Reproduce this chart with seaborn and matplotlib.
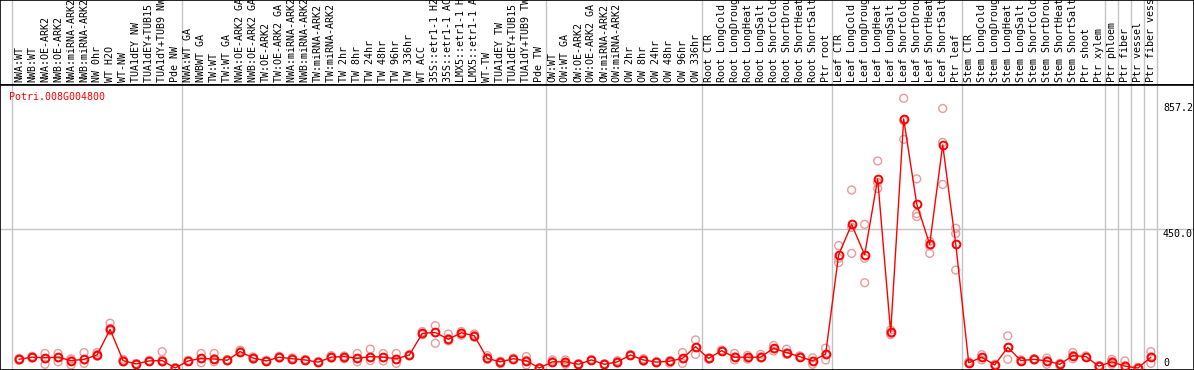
import matplotlib
matplotlib.use("Agg")
import matplotlib.pyplot as plt
import seaborn as sns
import numpy as np
import pandas as pd

gene = "Potri.008G004800"

categories = [
    "NWA:WT", "NWB:WT", "NWA:OE-ARK2", "NWB:OE-ARK2", "NWA:miRNA-ARK2", "NWB:miRNA-ARK2",
    "NW 0hr", "WT H2O", "WT-NW", "TUA1dEY NW", "TUA1dEY+TUB15 NW", "TUA1dY+TUB9 NW", "Pde NW",
    "NWA:WT GA", "NWBWT GA", "TW:WT", "TW:WT GA", "NWA:OE-ARK2 GA", "NWB:OE-ARK2 GA",
    "TW:OE-ARK2", "TW:OE-ARK2 GA", "NWA:miRNA-ARK2 GA", "NWB:miRNA-ARK2 GA", "TW:miRNA-ARK2",
    "TW:miRNA-ARK2 GA", "TW 2hr", "TW 8hr", "TW 24hr", "TW 48hr", "TW 96hr", "TW 336hr",
    "WT ACC", "35S::etr1-1 H2O", "35S::etr1-1 ACC", "LMX5::etr1-1 H2O", "LMX5::etr1-1 ACC",
    "WT-TW", "TUA1dEY TW", "TUA1dEY+TUB15 TW", "TUA1dY+TUB9 TW", "Pde TW",
    "OW:WT", "OW:WT GA", "OW:OE-ARK2", "OW:OE-ARK2 GA", "OW:miRNA-ARK2", "OW:miRNA-ARK2 GA",
    "OW 2hr", "OW 8hr", "OW 24hr", "OW 48hr", "OW 96hr", "OW 336hr",
    "Root CTR", "Root LongCold", "Root LongDrought", "Root LongHeat", "Root LongSalt",
    "Root ShortCold", "Root ShortDrought", "Root ShortHeat", "Root ShortSalt", "Ptr root",
    "Leaf CTR", "Leaf LongCold", "Leaf LongDrought", "Leaf LongHeat", "Leaf LongSalt",
    "Leaf ShortCold", "Leaf ShortDrought", "Leaf ShortHeat", "Leaf ShortSalt", "Ptr leaf",
    "Stem CTR", "Stem LongCold", "Stem LongDrought", "Stem LongHeat", "Stem LongSalt",
    "Stem ShortCold", "Stem ShortDrought", "Stem ShortHeat", "Stem ShortSalt", "Ptr shoot",
    "Ptr xylem", "Ptr phloem", "Ptr fiber", "Ptr vessel", "Ptr fiber vessel",
]

mean_values = [
    28, 35, 33, 35, 24, 28, 42, 125, 24, 13, 23, 24, 0,
    23, 31, 29, 25, 53, 32, 23, 35, 30, 26, 19, 35, 37, 31, 37, 35, 30, 42,
    112, 115, 93, 114, 104, 31, 20, 30, 23, 0,
    20, 20, 12, 26, 12, 20, 42, 26, 19, 22, 31, 69,
    31, 56, 35, 35, 35, 64, 50, 37, 23, 45,
    366, 465, 366, 612, 115, 806, 531, 400, 722, 401,
    17, 35, 10, 67, 24, 28, 23, 12, 40, 37,
    6, 20, 6, 0, 35,
]

rep_hi = [
    31, 38, 47, 47, 30, 50, 50, 145, 28, 15, 25, 53, 1,
    25, 47, 47, 27, 58, 36, 25, 38, 33, 28, 21, 40, 39, 47, 61, 47, 47, 44,
    118, 137, 110, 118, 110, 40, 22, 32, 37, 1,
    26, 26, 14, 28, 14, 24, 44, 30, 21, 24, 50, 91,
    33, 58, 47, 41, 44, 73, 61, 39, 33, 64,
    396, 576, 465, 670, 123, 873, 612, 410, 840, 452,
    20, 43, 12, 104, 26, 30, 32, 15, 50, 39,
    8, 28, 23, 2, 53,
]

rep_lo = [
    25, 32, 12, 20, 10, 15, 38, 120, 20, 12, 21, 20, 0,
    21, 17, 20, 23, 50, 28, 21, 32, 27, 24, 17, 32, 30, 20, 24, 23, 15, 40,
    108, 80, 88, 106, 100, 28, 14, 28, 10, 0,
    18, 12, 10, 24, 10, 16, 40, 22, 17, 16, 15, 44,
    29, 54, 26, 29, 33, 55, 44, 35, 12, 26,
    341, 371, 276, 581, 108, 740, 490, 371, 594, 317,
    15, 26, 8, 28, 22, 26, 12, 8, 30, 35,
    4, 12, 3, 0, 15,
]

rep_mid = [
    29, 36, 30, 33, 26, 26, 44, 128, 25, 14, 22, 26, 1,
    22, 30, 30, 26, 54, 33, 24, 36, 31, 27, 20, 36, 36, 30, 35, 33, 28, 41,
    110, 114, 95, 112, 106, 33, 19, 31, 25, 1,
    21, 19, 13, 25, 13, 21, 41, 27, 18, 21, 30, 66,
    30, 55, 36, 34, 36, 62, 49, 38, 22, 44,
    355, 455, 355, 600, 112, 800, 500, 395, 730, 435,
    18, 34, 11, 66, 25, 29, 24, 13, 41, 36,
    7, 21, 7, 1, 36,
]

separators = [-0.5, 12.5, 40.5, 52.5, 62.5, 72.5, 83.5, 84.5, 85.5, 86.5, 87.5]
y_ticks = [857.2, 450.0, 0]
y_tick_labels = ["857.2", "450.0", "0"]

W, H = 1194, 370
DPI = 100
fig = plt.figure(figsize=(W / DPI, H / DPI), dpi=DPI)
sns.set_style("white")
plt.rcParams["font.family"] = ["DejaVu Sans Mono", "DejaVu Sans"]

px_per_cat = 13.01
x0_px = 19.0
xlim = (-x0_px / px_per_cat, (W - x0_px) / px_per_cat)

label_h = 85
ax_lab = fig.add_axes([0, 1 - label_h / H, 1, label_h / H])
ax = fig.add_axes([0, 0, 1, (H - label_h) / H])

grid_col = "#c4c4c4"
idx = np.arange(len(categories))

# plot area
units_per_px = 1 / 0.309
ax.set_xlim(*xlim)
ax.set_ylim(-2 * units_per_px, (H - label_h - 2) * units_per_px)
for s in separators:
    ax.axvline(s, color=grid_col, lw=1.0, zorder=0)
    ax_lab.axvline(s, color=grid_col, lw=1.0, zorder=0)
ax.axhline(450.0, color=grid_col, lw=1.0, zorder=0)

reps = pd.DataFrame({
    "x": np.concatenate([idx, idx, idx]),
    "y": np.concatenate([rep_hi, rep_lo, rep_mid]).astype(float),
})
sns.scatterplot(data=reps, x="x", y="y", ax=ax, marker="o", s=32,
                facecolor="none", edgecolor="#ea9a9a", linewidth=1.0, zorder=2, legend=False)

means = pd.DataFrame({"x": idx, "y": np.array(mean_values, dtype=float)})
sns.lineplot(data=means, x="x", y="y", ax=ax, color="#ff0000", lw=1.0,
             marker="o", markersize=5.6, markerfacecolor="none",
             markeredgecolor="#ff0000", markeredgewidth=1.4, zorder=3, legend=False)

ax.set_xlabel("")
ax.set_ylabel("")
ax.set_xticks([])
ax.set_yticks([])
for sp in ax.spines.values():
    sp.set_visible(True)
    sp.set_color("black")
    sp.set_linewidth(1.2)

for v, t in zip(y_ticks, y_tick_labels):
    ax.text(1163 / W, v, t, transform=ax.get_yaxis_transform(), fontsize=7.2,
            va="bottom" if v == 0 else "top", ha="left", color="black")

ax.text(9.5 / W, 1 - 12 / (H - label_h), gene, transform=ax.transAxes,
        fontsize=7.2, color="#ff0000", va="center", ha="left")

# label area
ax_lab.set_xlim(*xlim)
ax_lab.set_ylim(0, label_h)
ax_lab.set_xticks([])
ax_lab.set_yticks([])
for sp in ax_lab.spines.values():
    sp.set_visible(True)
    sp.set_color("black")
    sp.set_linewidth(1.2)
for i, c in enumerate(categories):
    ax_lab.text(i, 3, c, rotation=90, ha="center", va="bottom", fontsize=7.2,
                color="black", clip_on=True)

fig.savefig("out.png", dpi=DPI)
